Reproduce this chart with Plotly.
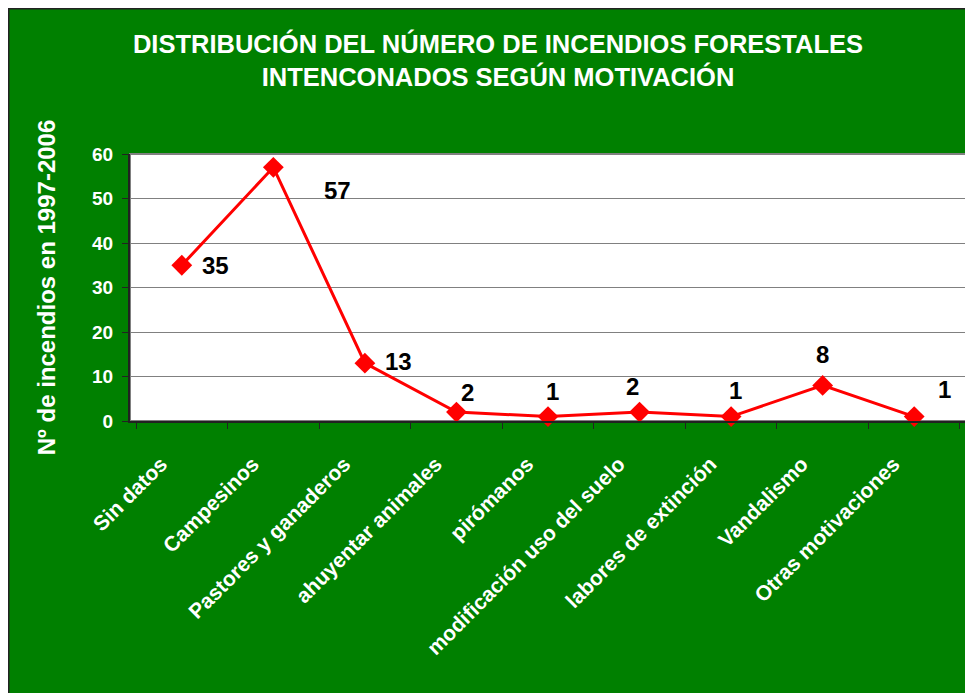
import plotly.graph_objects as go

categories = ["Sin datos", "Campesinos", "Pastores y ganaderos", "ahuyentar animales",
              "pirómanos", "modificación uso del suelo", "labores de extinción",
              "Vandalismo", "Otras motivaciones"]
values = [35, 57, 13, 2, 1, 2, 1, 8, 1]
y_ticks = [0, 10, 20, 30, 40, 50, 60]
# pixel offsets of each data label relative to its point (style only)
label_dx = [34, 64, 34, 11, 4, -7, 4, 0, 30]
label_dy = [0, -23, 2, 20, 25, 26, 26, 31, 27]

W, H = 973, 693
L, R, T, B = 122, 15, 146, 280
GREEN = "#008000"
FONT = "Liberation Sans, Arial, sans-serif"
PAD = "\u00a0" * 5  # pushes rotated tick labels down-left like the original

fig = go.Figure()
fig.add_trace(go.Scatter(
    x=categories, y=values, mode="lines+markers",
    line=dict(color="#FF0000", width=3),
    marker=dict(symbol="diamond", size=16, color="#FF0000"),
    hoverinfo="x+y", showlegend=False, cliponaxis=False,
))

for c, v, dx, dy in zip(categories, values, label_dx, label_dy):
    fig.add_annotation(x=c, y=v, text=str(v), showarrow=False,
                       xshift=dx, yshift=dy,
                       font=dict(family=FONT, size=24, color="black", weight="bold"))

pw = W - L - R
ph = H - T - B
def px_x(px):
    return (px - L) / pw
def px_y(py):
    return (H - B - py) / ph

# dark border at top/left edge of the chart
fig.add_shape(type="line", xref="paper", yref="paper",
              x0=px_x(0), x1=px_x(W + 5), y0=px_y(0.5), y1=px_y(0.5),
              line=dict(color="#222222", width=2))
fig.add_shape(type="line", xref="paper", yref="paper",
              x0=px_x(0.5), x1=px_x(0.5), y0=px_y(0), y1=px_y(H + 5),
              line=dict(color="#222222", width=2))
# plot area border (gray top/right)
fig.add_shape(type="rect", xref="paper", yref="paper", x0=0, x1=1, y0=0, y1=1,
              line=dict(color="#808080", width=2), fillcolor="rgba(0,0,0,0)", layer="below")

fig.update_layout(
    width=W, height=H,
    margin=dict(l=L, r=R, t=T, b=B),
    paper_bgcolor=GREEN, plot_bgcolor="white",
    title=dict(text="DISTRIBUCIÓN DEL NÚMERO DE INCENDIOS FORESTALES<br>INTENCONADOS SEGÚN MOTIVACIÓN",
               x=490 / W, xanchor="center", y=1 - 44.5 / H, yanchor="middle", yref="container",
               font=dict(family=FONT, size=25.5, color="white", weight="bold")),
    xaxis=dict(type="category", showgrid=False, showline=True, linecolor="#222222", linewidth=2,
               ticks="outside", tickson="boundaries", ticklen=6, tickcolor="#222222",
               tickmode="array", tickvals=categories, ticktext=[c + PAD for c in categories],
               tickangle=-45, tickfont=dict(family=FONT, size=21, color="white", weight="bold"),
               zeroline=False),
    yaxis=dict(range=[0, 60], tickvals=y_ticks, showgrid=True, gridcolor="#808080", gridwidth=1,
               showline=True, linecolor="#222222", linewidth=2, ticks="outside", ticklen=6,
               tickcolor="#222222", zeroline=False, ticklabelstandoff=5,
               tickfont=dict(family=FONT, size=19, color="white", weight="bold"),
               title=dict(text="Nº de incendios en 1997-2006", standoff=30,
                          font=dict(family=FONT, size=24, color="white", weight="bold"))),
)

fig.write_html("out.html")
